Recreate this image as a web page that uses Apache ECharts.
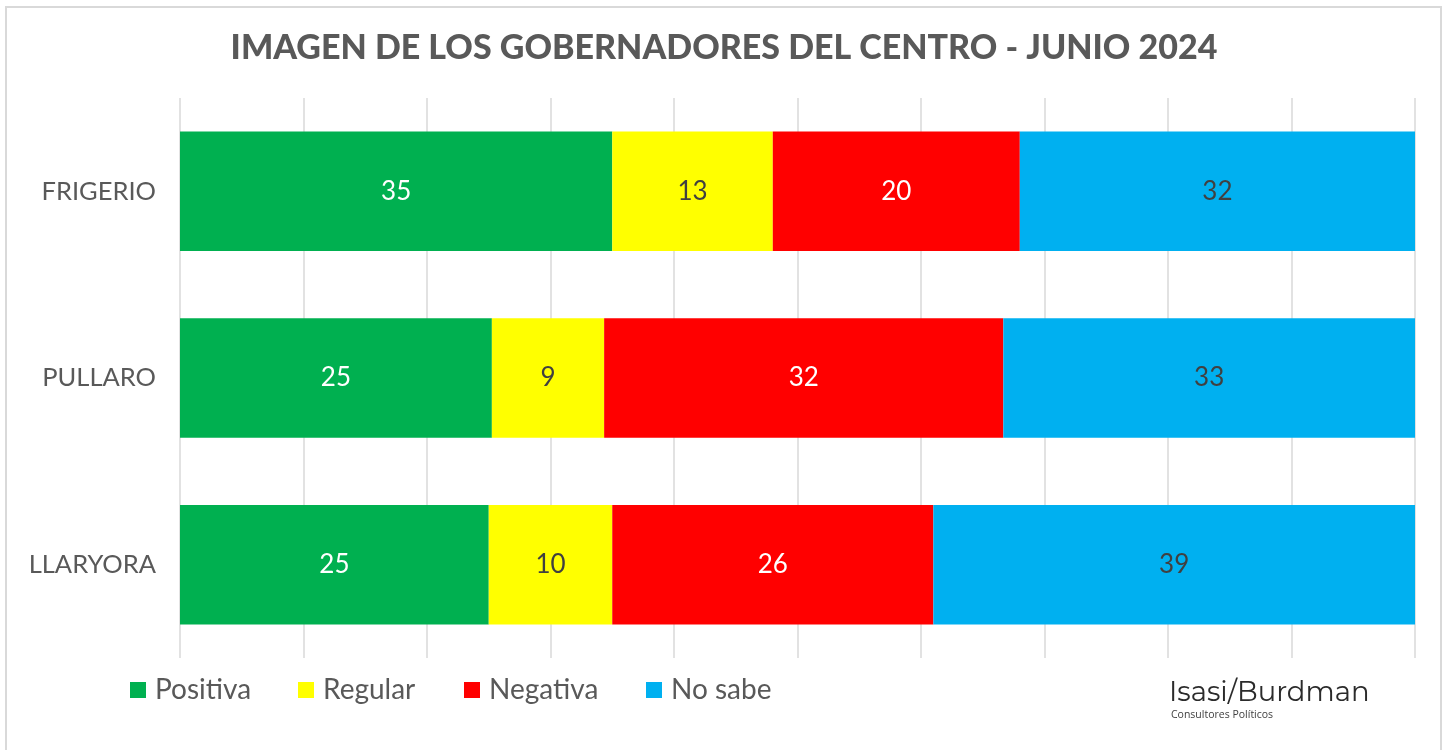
<!DOCTYPE html>
<html>
<head>
<meta charset="utf-8">
<script src="https://cdn.jsdelivr.net/npm/echarts@6/dist/echarts.min.js"></script>
<style>
  html, body { margin: 0; padding: 0; background: #ffffff; }
  #chart { width: 1448px; height: 750px; }
</style>
</head>
<body>
<div id="chart"></div>
<script>
// Governors and survey answers (percent)
const governors = ['FRIGERIO', 'PULLARO', 'LLARYORA'];
const positiva = [35, 25, 25];
const regular  = [13, 9, 10];
const negativa = [20, 32, 26];
const noSabe   = [32, 33, 39];

const seriesNames = ['Positiva', 'Regular', 'Negativa', 'No sabe'];
const seriesValues = [positiva, regular, negativa, noSabe];
const seriesColors = ['#00B050', '#FFFF00', '#FF0000', '#00B0F0'];
const labelColors = ['#ffffff', '#404040', '#ffffff', '#404040'];
const legendLeft = [130, 298, 464, 646];

// Each row is drawn as a 100% stacked bar
const totals = governors.map((_, i) => seriesValues.reduce((s, arr) => s + arr[i], 0));

const textFont = 'Lato, "Open Sans", sans-serif';

const chart = echarts.init(document.getElementById('chart'));
chart.setOption({
  backgroundColor: '#ffffff',
  animation: false,
  title: {
    text: 'IMAGEN DE LOS GOBERNADORES DEL CENTRO - JUNIO 2024',
    left: 'center',
    top: 26,
    textStyle: { fontFamily: textFont, fontWeight: 900, fontSize: 34, color: '#595959' }
  },
  // one legend block per answer so each entry sits at its own spot
  legend: seriesNames.map((name, k) => ({
    left: legendLeft[k],
    top: 676,
    padding: 0,
    itemWidth: 16,
    itemHeight: 16,
    icon: 'rect',
    textStyle: { fontFamily: textFont, fontSize: 28, color: '#595959', padding: [0, 0, 0, 4] },
    data: [name]
  })),
  grid: { left: 180, right: 33, top: 98, bottom: 92 },
  xAxis: {
    type: 'value',
    min: 0,
    max: 100,
    interval: 10,
    axisLabel: { show: false },
    axisLine: { show: false },
    axisTick: { show: false },
    splitLine: { show: true, lineStyle: { color: '#d9d9d9', width: 1.5 } }
  },
  yAxis: {
    type: 'category',
    inverse: true,
    data: governors,
    axisLine: { show: false },
    axisTick: { show: false },
    axisLabel: { fontFamily: textFont, fontSize: 25.5, color: '#595959', margin: 24 }
  },
  series: seriesNames.map((name, k) => ({
    name,
    type: 'bar',
    stack: 'total',
    barCategoryGap: '36%',
    itemStyle: { color: seriesColors[k] },
    label: {
      show: true,
      position: 'inside',
      fontFamily: textFont,
      fontSize: 26,
      color: labelColors[k],
      formatter: p => String(seriesValues[k][p.dataIndex])
    },
    data: seriesValues[k].map((v, i) => v / totals[i] * 100)
  })),
  graphic: [
    {
      type: 'rect',
      shape: { x: 6, y: 7, width: 1435, height: 760 },
      style: { fill: 'none', stroke: '#d9d9d9', lineWidth: 2 },
      silent: true
    },
    {
      type: 'text',
      left: 1169,
      top: 679,
      style: { text: 'Isasi/Burdman', fontFamily: 'Montserrat, "Open Sans", sans-serif', fontSize: 27.5, fill: '#2b2b2b' }
    },
    {
      type: 'text',
      left: 1171,
      top: 710,
      style: { text: 'Consultores Políticos', fontFamily: '"Open Sans", sans-serif', fontSize: 10.5, fill: '#404040' }
    }
  ]
});
</script>
</body>
</html>
